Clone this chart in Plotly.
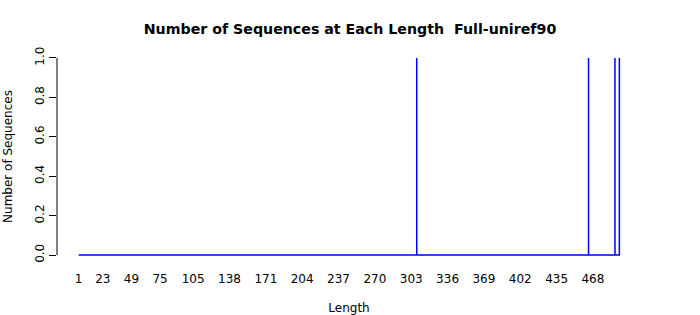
import plotly.graph_objects as go

# Data: lengths of the sequences found (each counted once)
seq_lengths = [308, 464, 488, 492]
max_length = 492
x_tick_labels = [1, 23, 49, 75, 105, 138, 171, 204, 237, 270, 303, 336, 369, 402, 435, 468]
y_tick_vals = [0.0, 0.2, 0.4, 0.6, 0.8, 1.0]

lengths = list(range(1, max_length + 1))
counts = [seq_lengths.count(L) for L in lengths]

# draw each length as a vertical segment on a continuous baseline
xs, ys = [], []
for L, c in zip(lengths, counts):
    if c:
        xs += [L, L, L]
        ys += [0, c, 0]
    else:
        xs.append(L)
        ys.append(0)

FONT = "DejaVu Sans"
fig = go.Figure()
fig.add_trace(go.Scatter(x=xs, y=ys, mode="lines",
                         line=dict(color="#0000FF", width=1.5), hoverinfo="skip"))

pad_x = 0.04 * (max_length - 1)
fig.update_layout(
    width=700, height=315,
    margin=dict(l=57, r=59, t=50, b=52, autoexpand=False),
    paper_bgcolor="white", plot_bgcolor="white",
    showlegend=False,
    font=dict(family=FONT, size=12, color="black"),
    title=dict(text="<b>Number of Sequences at Each Length \u00a0Full-uniref90</b>",
               x=0.5, xanchor="center", y=1 - 29/315, yanchor="middle",
               font=dict(family=FONT, size=14.2, color="black")),
    xaxis=dict(range=[1 - pad_x, max_length + pad_x], showgrid=False, zeroline=False,
               showline=False, ticks="", tickmode="array", automargin=False,
               tickvals=x_tick_labels, ticktext=[str(v) for v in x_tick_labels],
               tickfont=dict(size=12), ticklabelstandoff=7,
               title=dict(text="Length", font=dict(size=12), standoff=18)),
    yaxis=dict(range=[-0.04, 1.04], showgrid=False, zeroline=False, showline=False,
               ticks="outside", ticklen=7, tickwidth=1, tickcolor="black",
               tickmode="array", tickvals=y_tick_vals, automargin=False,
               ticktext=[f"{v:.1f}" for v in y_tick_vals], tickangle=-90,
               tickfont=dict(size=12),
               title=dict(text="Number of Sequences", font=dict(size=12), standoff=18)),
)
# y axis line spanning only the tick range (0 to 1)
fig.add_shape(type="line", xref="paper", yref="y", x0=0, x1=0, y0=0, y1=1,
              line=dict(color="black", width=1))

fig.write_html("out.html")
